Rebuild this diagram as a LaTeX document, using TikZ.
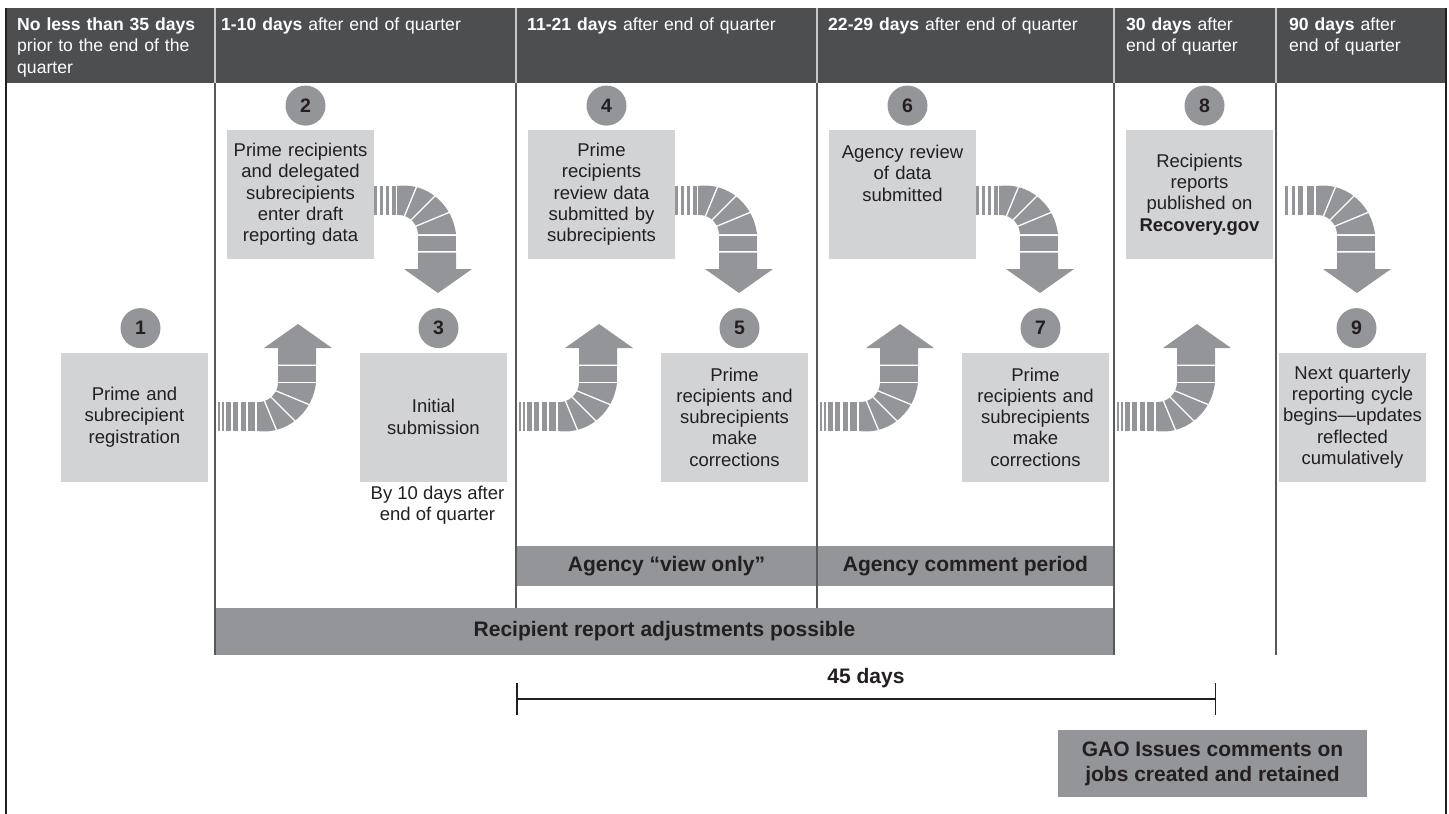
\documentclass[tikz,border=0pt]{standalone}
\usepackage{fontspec}
\setmainfont{Liberation Sans}
\usepackage{tikz}
\usetikzlibrary{positioning}
\usetikzlibrary{arrows.meta}

\definecolor{headgray}{HTML}{4D4E50}
\definecolor{boxgray}{HTML}{D1D3D4}
\definecolor{midgray}{HTML}{939598}
\definecolor{inkblack}{HTML}{231F20}
\definecolor{rulegray}{HTML}{C7C8CA}
\definecolor{linegray}{HTML}{58595B}

\tikzset{
graybox/.style={fill=boxgray,text=inkblack,minimum width=147pt,minimum height=129pt,text width=146pt,align=center,inner sep=0pt,font=\fontsize{18.5}{21.3}\selectfont},
numdot/.style={circle,fill=midgray,text=inkblack,minimum size=40pt,inner sep=0pt,font=\fontsize{19.5}{19.5}\selectfont\bfseries},
band/.style={fill=midgray,text=inkblack,inner sep=0pt,align=center,font=\fontsize{21}{25}\selectfont\bfseries},
headtxt/.style={anchor=base west,text=white,text width=280pt,align=left,inner sep=0pt,font=\fontsize{17.6}{21.6}\selectfont},
pics/bendarrow/.style={code={
\fill[midgray] plot[domain=-90:0,samples=19] (\x:{19+2*(\x+90)/90})
  -- plot[domain=0:-90,samples=19] (\x:{48+11*(\x+90)/90}) -- cycle;
\foreach \ang in {-67.5,-45,-22.5}
  \draw[white,line width=1.3pt] (\ang:17) -- (\ang:62);
\foreach \a/\b in {#1}
  \fill[midgray] (\a,-48) rectangle (\b,-19);
\fill[midgray] (21,1.5) rectangle (59,17);
\fill[midgray] (21,18.5) -- (59,18.5) -- (59,35) -- (75,35) -- (41,59) -- (7,35) -- (21,35) -- cycle;
}}
}

\begin{document}
\begin{tikzpicture}[x=1pt,y=-1pt]
\useasboundingbox (0,0) rectangle (1449,814);

% header row
\fill[headgray] (6,8) rectangle (1446,83);
\foreach \xx in {215,516,817,1114,1276}
  \draw[rulegray,line width=1.5pt] (\xx,8) -- (\xx,83);

\node[headtxt,text width=195pt] (h1) at (17,30) {\textbf{No less than 35 days}\\prior to the end of the\\quarter};
\node[headtxt] (h2) at (221,30) {\textbf{1-10 days} after end of quarter};
\node[headtxt] (h3) at (527,30) {\textbf{11-21 days} after end of quarter};
\node[headtxt] (h4) at (828,30) {\textbf{22-29 days} after end of quarter};
\node[headtxt,text width=150pt] (h5) at (1126,30) {\textbf{30 days} after\\end of quarter};
\node[headtxt,text width=150pt] (h6) at (1289,30) {\textbf{90 days} after\\end of quarter};

% bars
\node[band,minimum width=301pt,minimum height=40pt] (viewonly) at (666.5,566) {Agency “view only”};
\node[band,minimum width=297pt,minimum height=40pt] (comment) at (965.5,566) {Agency comment period};
\node[band,minimum width=899pt,minimum height=47pt] (adjust) at (664.5,631.5) {Recipient report adjustments possible};
\node[band,minimum width=309pt,minimum height=67pt] (gao) at (1212.5,763.5) {GAO Issues comments on\\jobs created and retained};

% column lines
\draw[linegray,line width=1.3pt] (215,83) -- (215,655);
\draw[linegray,line width=1.3pt] (516,83) -- (516,608);
\draw[linegray,line width=1.3pt] (817,83) -- (817,608);
\draw[linegray,line width=1.3pt] (1114,83) -- (1114,655);
\draw[linegray,line width=1.3pt] (1276,83) -- (1276,655);
\draw[inkblack,line width=1.5pt] (6,8) -- (6,814);
\draw[inkblack,line width=1.5pt] (1446,8) -- (1446,814);

% steps
\node[graybox] (b1) at (134.5,417) {Prime and\\subrecipient\\registration};
\node[graybox] (b2) at (300.5,194.5) {Prime recipients\\and delegated\\subrecipients\\enter draft\\reporting data};
\node[graybox] (b3) at (433.5,417) {Initial\\submission};
\node[graybox] (b4) at (601.5,194.5) {Prime\\recipients\\review data\\submitted by\\subrecipients};
\node[graybox] (b5) at (734.5,417) {Prime\\recipients and\\subrecipients\\make\\corrections};
\node[graybox] (b6) at (902.5,194.5) {Agency review\\of data\\submitted\\~\\~};
\node[graybox] (b7) at (1035.5,417) {Prime\\recipients and\\subrecipients\\make\\corrections};
\node[graybox] (b8) at (1199.5,194.5) {Recipients\\reports\\published on\\\textbf{Recovery.gov}};
\node[graybox] (b9) at (1352.5,417) {Next quarterly\\reporting cycle\\begins\textemdash updates\\reflected\\cumulatively};

\node[numdot,above=4pt of b1,xshift=6pt] (n1) {1};
\node[numdot,above=4pt of b2,xshift=5pt] (n2) {2};
\node[numdot,above=4pt of b3,xshift=5pt] (n3) {3};
\node[numdot,above=4pt of b4,xshift=5pt] (n4) {4};
\node[numdot,above=4pt of b5,xshift=5pt] (n5) {5};
\node[numdot,above=4pt of b6,xshift=5pt] (n6) {6};
\node[numdot,above=4pt of b7,xshift=5pt] (n7) {7};
\node[numdot,above=4pt of b8,xshift=5pt] (n8) {8};
\node[numdot,above=4pt of b9,xshift=4pt] (n9) {9};

\node[below=4pt of b3,xshift=4pt,align=center,inner sep=0pt,text=inkblack,font=\fontsize{18.5}{21.5}\selectfont] (due) {By 10 days after\\end of quarter};

% bent arrows
\pic at (397,234) {bendarrow={-23/-20,-17/-14,-11/-8,-5/-1}};
\pic at (698,234) {bendarrow={-23/-20,-17/-14,-11/-8,-5/-1}};
\pic at (999,234) {bendarrow={-23/-20,-17/-14,-11/-8,-5/-1}};
\pic at (1316,234) {bendarrow={-31/-28,-24/-21,-18/-13,-9/-2}};
\pic[yscale=-1] at (257,383) {bendarrow={-39/-37,-35/-33,-31/-26,-24/-19,-16/-11,-9/-2}};
\pic[yscale=-1] at (558,383) {bendarrow={-39/-37,-35/-33,-31/-26,-24/-19,-16/-11,-9/-2}};
\pic[yscale=-1] at (859,383) {bendarrow={-39/-37,-35/-33,-31/-26,-24/-19,-16/-11,-9/-2}};
\pic[yscale=-1] at (1156,383) {bendarrow={-39/-37,-35/-33,-31/-26,-24/-19,-16/-11,-9/-2}};

% 45 day span
\coordinate (s) at (516,699);
\coordinate (e) at (1216,699);
\draw[inkblack,line width=1.5pt,{Bar[width=32pt]}-{Bar[width=32pt]}] (s) -- (e) node[midway,above=10pt,inner sep=0pt,font=\fontsize{21}{25}\selectfont\bfseries] (span) {45 days};

\end{tikzpicture}
\end{document}
